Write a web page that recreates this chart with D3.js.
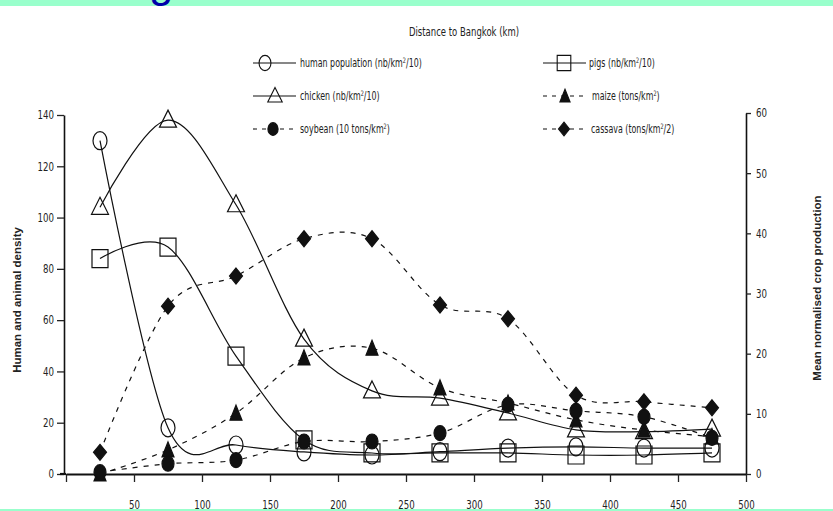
<!DOCTYPE html>
<html><head><meta charset="utf-8">
<script src="https://cdn.jsdelivr.net/npm/d3@7"></script>
<style>
html,body{margin:0;padding:0;background:#fff;}
svg{display:block;}
.narrow{font-family:"DejaVu Sans",sans-serif;}
</style></head>
<body>
<svg id="chart" width="833" height="511"></svg>
<script>
// ---- data ----
const distance = [25, 75, 125, 175, 225, 275, 325, 375, 425, 475];
const human    = [130, 18, 11.3, 8.6, 7.4, 8.7, 10.1, 10.6, 10.1, 10.1];
const pigs     = [84, 88.5, 46, 13.3, 8.2, 8.2, 8.2, 7.4, 7.4, 8.2];
const chicken  = [104, 138, 105, 52.6, 32.4, 29.6, 23.8, 17.2, 16.5, 17.5];
const maize    = [0, 4.0, 10.1, 19.3, 20.9, 14.3, 11.8, 9.0, 7.3, 6.2];
const soybean  = [0.3, 1.7, 2.3, 5.4, 5.4, 6.8, 11.5, 10.5, 9.5, 6.0];
const cassava  = [3.6, 27.9, 32.9, 39.1, 39.1, 28.1, 25.8, 13.1, 12.0, 11.0];
const xTicks = [0, 50, 100, 150, 200, 250, 300, 350, 400, 450, 500];
const leftTicks = [0, 20, 40, 60, 80, 100, 120, 140];
const rightTicks = [0, 10, 20, 30, 40, 50, 60];

const SX = 0.68; // horizontal squeeze imitating the narrow typeface
const svg = d3.select("#chart");

// top band & bottom line
svg.append("rect").attr("x",0).attr("y",0).attr("width",833).attr("height",6).attr("fill","#99ffcc");
svg.append("text").attr("x",149).attr("y",-3).attr("font-family","Liberation Sans, Arial, sans-serif")
   .attr("font-size",44).attr("fill","#0000aa").text("g");
svg.append("rect").attr("x",0).attr("y",509).attr("width",833).attr("height",2).attr("fill","#99ffcc");

const x = d3.scaleLinear().domain([0,500]).range([66,746]);
const yL = d3.scaleLinear().domain([0,140]).range([474,115]);
const yR = d3.scaleLinear().domain([0,60]).range([474,113]);

// axes
const gx = svg.append("g").attr("transform","translate(0,474)")
  .call(d3.axisBottom(x).tickValues(xTicks).tickSize(8).tickSizeOuter(0).tickPadding(18)
        .tickFormat(d => d === 0 ? "" : d));
const gl = svg.append("g").attr("transform","translate(64,0)")
  .call(d3.axisLeft(yL).tickValues(leftTicks).tickSize(7).tickSizeOuter(0).tickPadding(3));
const gr = svg.append("g").attr("transform","translate(746,0)")
  .call(d3.axisRight(yR).tickValues(rightTicks).tickSize(5).tickSizeOuter(0).tickPadding(5));
[gx,gl,gr].forEach(g => {
  g.attr("font-family",null);
  g.selectAll("text").attr("class","narrow").attr("font-size",12).attr("fill","#222")
    .each(function(){
      const t = d3.select(this);
      const xv = +t.attr("x") || 0;
      t.attr("x", xv / 0.72).attr("transform", "scale(0.72,1)");
    });
  g.selectAll("line").attr("stroke","#222").attr("stroke-width",1.3);
  g.select(".domain").attr("stroke","#111").attr("stroke-width",1.6);
});
gx.select(".domain").attr("stroke-width",2.2);
svg.append("line").attr("x1",60).attr("x2",66).attr("y1",474).attr("y2",474).attr("stroke","#111").attr("stroke-width",2.2);

// axis titles
svg.append("text").attr("transform","translate(21,300) rotate(-90)").attr("text-anchor","middle")
  .attr("font-family","Liberation Sans, Arial, sans-serif").attr("font-size",11.5).attr("font-weight","bold")
  .attr("fill","#222").text("Human and animal density");
svg.append("text").attr("transform","translate(821,288) rotate(-90)").attr("text-anchor","middle")
  .attr("font-family","Liberation Sans, Arial, sans-serif").attr("font-size",11.5).attr("font-weight","bold")
  .attr("fill","#222").text("Mean normalised crop production");
svg.append("text").attr("class","narrow").attr("transform",`translate(464,36) scale(${SX},1)`)
  .attr("text-anchor","middle").attr("font-size",12.5).attr("fill","#222").text("Distance to Bangkok (km)");

// marker shapes
const shapes = {
  circle: "M0,-9 A7,9 0 1,1 0,9 A7,9 0 1,1 0,-9 Z",
  square: "M-8,-9 H8 V9 H-8 Z",
  triangle: "M0,-10 L8.5,7 L-8.5,7 Z",
  ftriangle: "M0,-8 L6,7 L-6,7 Z",
  fcircle: "M0,-7.5 A6,7.5 0 1,1 0,7.5 A6,7.5 0 1,1 0,-7.5 Z",
  diamond: "M0,-8 L6.5,0 L0,8 L-6.5,0 Z"
};

const series = [
  {name:"human", values:human, scale:yL, dash:null, shape:"circle", fill:"none"},
  {name:"pigs", values:pigs, scale:yL, dash:null, shape:"square", fill:"none"},
  {name:"chicken", values:chicken, scale:yL, dash:null, shape:"triangle", fill:"none"},
  {name:"maize", values:maize, scale:yR, dash:"5,6", shape:"ftriangle", fill:"#111"},
  {name:"soybean", values:soybean, scale:yR, dash:"5,6", shape:"fcircle", fill:"#111"},
  {name:"cassava", values:cassava, scale:yR, dash:"5,6", shape:"diamond", fill:"#111"}
];

series.forEach(s => {
  const line = d3.line().x((d,i)=>x(distance[i])).y(d=>s.scale(d)).curve(d3.curveCatmullRom.alpha(0));
  svg.append("path").attr("d", line(s.values)).attr("fill","none").attr("stroke","#111")
    .attr("stroke-width",1.2).attr("stroke-dasharray", s.dash);
});
series.forEach(s => {
  svg.append("g").selectAll("path").data(s.values).join("path")
    .attr("d", shapes[s.shape])
    .attr("transform",(d,i)=>`translate(${x(distance[i])},${s.scale(d)})`)
    .attr("fill", s.fill).attr("stroke","#111").attr("stroke-width",1.2);
});

// legend
const legend = [
  {label:["human population (nb/km","2","/10)"], shape:"circle", fill:"none", dash:null, lx:253, mx:265, tx:300, y:63},
  {label:["pigs (nb/km","2","/10)"], shape:"square", fill:"none", dash:null, lx:543, mx:564, tx:589, y:63},
  {label:["chicken (nb/km","2","/10)"], shape:"triangle", fill:"none", dash:null, lx:253, mx:275, tx:300, y:96},
  {label:["maize (tons/km","2",")"], shape:"ftriangle", fill:"#111", dash:"4,5", lx:543, mx:565, tx:592, y:96},
  {label:["soybean (10 tons/km","2",")"], shape:"fcircle", fill:"#111", dash:"4,5", lx:253, mx:273, tx:300, y:129},
  {label:["cassava (tons/km","2","/2)"], shape:"diamond", fill:"#111", dash:"4,5", lx:543, mx:564, tx:591, y:129}
];
legend.forEach(l => {
  const g = svg.append("g");
  g.append("line").attr("x1",l.lx).attr("x2",l.lx+43).attr("y1",l.y).attr("y2",l.y)
    .attr("stroke","#111").attr("stroke-width",1.1).attr("stroke-dasharray",l.dash);
  g.append("path").attr("d",shapes[l.shape]).attr("transform",`translate(${l.mx},${l.y}) scale(0.85)`)
    .attr("fill",l.fill).attr("stroke","#111").attr("stroke-width",1.3);
  const t = g.append("text").attr("class","narrow").attr("transform",`translate(${l.tx},${l.y+4}) scale(0.66,1)`)
    .attr("font-size",12).attr("fill","#222");
  t.append("tspan").text(l.label[0]);
  t.append("tspan").attr("font-size",7.5).attr("dy",-4.5).text(l.label[1]);
  t.append("tspan").attr("dy",4.5).text(l.label[2]);
});
</script>
</body></html>
